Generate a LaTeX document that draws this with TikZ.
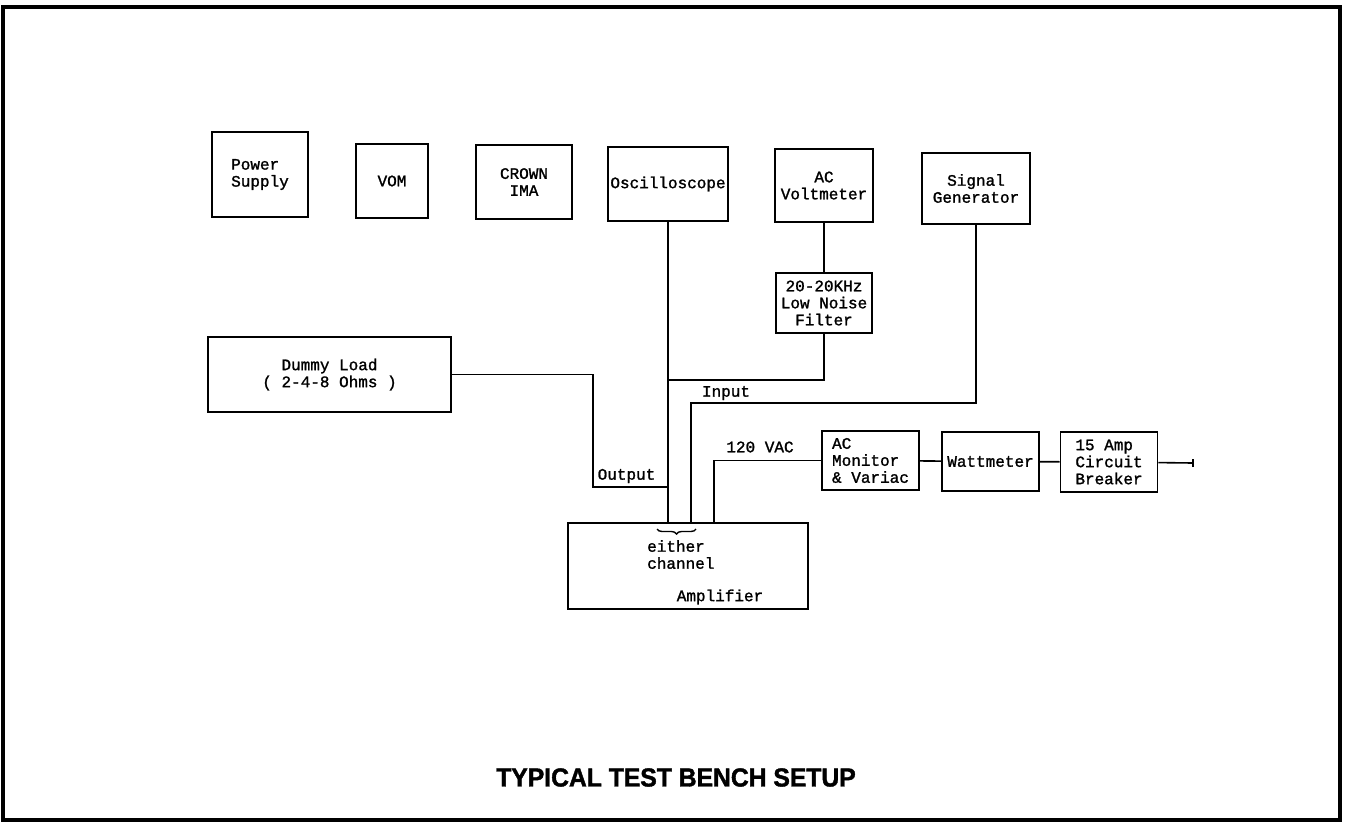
\documentclass[tikz,border=0pt]{standalone}
\usepackage{fontspec}
\newfontfamily\BenchFace[FakeBold=1.4]{Liberation Mono}
\newfontfamily\TitleFace[FakeStretch=0.95,FakeBold=1.5]{Liberation Sans}
\usetikzlibrary{decorations.pathreplacing}
\newcommand{\FigBody}{\BenchFace\fontsize{16}{17}\selectfont}
\newcommand{\FigTitle}{\TitleFace\bfseries\fontsize{26}{28}\selectfont}

\begin{document}
\begin{tikzpicture}[
  x=1pt, y=-1pt,
  font=\FigBody,
  unit/.style  = {draw, line width=1.6pt, inner sep=0pt, align=center},
  wire/.style  = {line width=1.6pt},
  tag/.style   = {inner sep=0pt},
  frame/.style = {line width=4.5pt},
]
\useasboundingbox (0,0) rectangle (1349,823);
\draw[frame] (3,7) rectangle (1340,820);

% ---------------------------------------------------------------- instruments on the shelf
\node[unit, minimum width=96, minimum height=85, align=left] (psu) at (260,174.5) {Power\\Supply};
\node[unit, minimum width=72, minimum height=74] (vom)    at (392,181)   {VOM};
\node[unit, minimum width=96, minimum height=74] (ima)    at (524,182)   {CROWN\\IMA};
\node[unit, minimum width=120, minimum height=74] (scope) at (668,184)   {Oscilloscope};
\node[unit, minimum width=98, minimum height=73] (acv)    at (824,185.5) {AC\\Voltmeter};
\node[unit, minimum width=108, minimum height=71] (siggen) at (976,188.5) {Signal\\Generator};
\node[unit, minimum width=96, minimum height=60] (filter) at (824,303)   {20-20KHz\\Low Noise\\Filter};

% ---------------------------------------------------------------- bench units
\node[unit, minimum width=243, minimum height=75] (dummy) at (329.5,374.5) {Dummy Load\\( 2-4-8 Ohms )};
\node[unit, minimum width=240, minimum height=86] (amp)   at (688,566) {};
\node[unit, minimum width=97, minimum height=59, align=left] (acmon) at (870.5,460.5)
  {AC\\Monitor\\\& Variac};
\node[unit, minimum width=97, minimum height=59] (watt) at (990.5,461.5) {Wattmeter};
\node[unit, minimum width=97, minimum height=60, align=left] (cb) at (1109,462)
  {15 Amp\\Circuit\\Breaker};

% taps on the amplifier top and the mains end
\coordinate (ampOut) at (668,523);
\coordinate (ampIn)  at (691,523);
\coordinate (ampAC)  at (714,523);
\coordinate (jF)     at (668,380);
\coordinate (jO)     at (668,487);
\coordinate (mains)  at (1193,463);

% ---------------------------------------------------------------- wiring
\draw[wire] (scope.south) -- (ampOut);
\draw[wire] (acv) -- (filter);
\draw[wire] (filter.south) |- (jF);
\draw[wire] (dummy.east) -- ++(141,0) |- (jO);
\draw[wire] (ampIn) -- ++(0,-120) -| (siggen.south);
\draw[wire] (ampAC) |- (acmon.west);
\draw[wire] (acmon) -- (watt);
\draw[wire] (watt) -- (cb);
\draw[wire] (cb) -- (mains);
\draw[wire] ([yshift=-4]mains) -- ([yshift=4]mains);

% ---------------------------------------------------------------- labels
\node[tag] (lblOut) at (626.5,476) {Output};
\node[tag] (lblIn)  at (726,393)   {Input};
\node[tag] (lblAC)  at (760,447)   {120 VAC};
\draw[line width=1.4pt, decorate, decoration={brace, mirror, amplitude=5}] (657,529) -- (696,529);
\node[tag, anchor=west, align=left] (lblCh) at (647,554.5) {either\\channel};
\node[tag] (lblAmp) at (720,597) {Amplifier};

\node[tag, font=\FigTitle] (title) at (676,777.5) {TYPICAL TEST BENCH SETUP};
\end{tikzpicture}
\end{document}
